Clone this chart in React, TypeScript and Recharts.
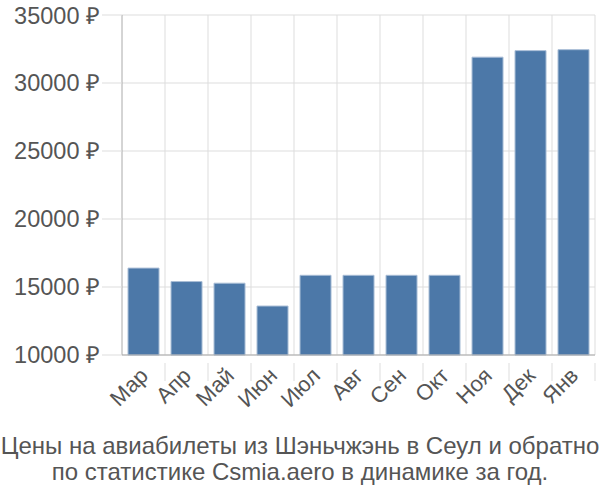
import React from 'react';
import { BarChart, Bar, XAxis, YAxis, CartesianGrid } from 'recharts';

const months = ['Мар', 'Апр', 'Май', 'Июн', 'Июл', 'Авг', 'Сен', 'Окт', 'Ноя', 'Дек', 'Янв'];
const prices = [16390, 15400, 15280, 13600, 15860, 15860, 15860, 15860, 31900, 32380, 32450];
const yTicks = [10000, 15000, 20000, 25000, 30000, 35000];

const data = months.map((m, i) => ({ month: m, price: prices[i] }));

const W = 600;
const H = 420;
const LEFT = 122;
const RIGHT = 5;
const TOP = 15;
const BOTTOM_AXIS = 65;
const BAND = (W - LEFT - RIGHT) / months.length;
const FONT = "'Liberation Sans', Arial, sans-serif";

function MonthTick({ x, y, payload }: any) {
  return (
    <g>
      <line x1={x + BAND / 2} x2={x + BAND / 2} y1={y} y2={y + 18} stroke="#dddddd" />
      <text
        x={x + 6}
        y={y + 14}
        textAnchor="end"
        fill="#555555"
        fontSize={22}
        fontFamily={FONT}
        transform={`rotate(-45, ${x + 6}, ${y + 14})`}
      >
        {payload.value}
      </text>
    </g>
  );
}

export default function App() {
  return (
    <div style={{ position: 'absolute', left: 0, top: 0, width: W, height: 500, background: '#fff' }}>
      <BarChart
        width={W}
        height={H}
        data={data}
        margin={{ top: TOP, right: RIGHT, left: 0, bottom: 0 }}
        barCategoryGap="14%"
      >
        <CartesianGrid
          stroke="#dddddd"
          verticalCoordinatesGenerator={({ offset }: any) =>
            months.map((_, i) => offset.left + (i + 1) * (offset.width / months.length))
          }
        />
        <XAxis
          dataKey="month"
          height={BOTTOM_AXIS}
          stroke="#aaaaaa"
          tickLine={false}
          interval={0}
          tick={<MonthTick />}
        />
        <YAxis
          domain={[10000, 35000]}
          ticks={yTicks}
          width={LEFT}
          stroke="#aaaaaa"
          tickSize={20}
          tickMargin={2}
          tickLine={{ stroke: '#dddddd' }}
          tick={{ fill: '#555555', fontSize: 23.5, fontFamily: FONT }}
          tickFormatter={(v: number) => `${v} ₽`}
        />
        <Bar
          dataKey="price"
          fill="#4c78a8"
          stroke="#a9bdd6"
          strokeWidth={1}
          isAnimationActive={false}
        />
      </BarChart>
      <div
        style={{
          textAlign: 'center',
          fontFamily: FONT,
          fontSize: 24,
          lineHeight: '26px',
          color: '#555555',
          marginTop: 13,
          whiteSpace: 'nowrap',
        }}
      >
        Цены на авиабилеты из Шэньчжэнь в Сеул и обратно
        <br />
        по статистике Csmia.aero в динамике за год.
      </div>
    </div>
  );
}
